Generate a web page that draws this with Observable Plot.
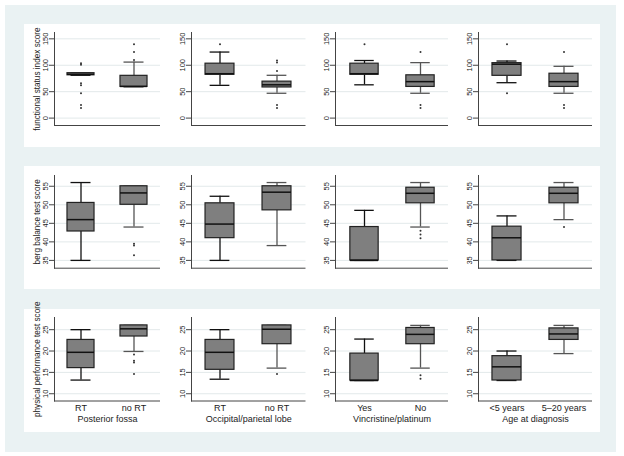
<!DOCTYPE html>
<html><head><meta charset="utf-8">
<script src="https://cdn.jsdelivr.net/npm/d3@7"></script>
<script src="https://cdn.jsdelivr.net/npm/@observablehq/plot@0.6"></script>
<style>
body{margin:0;background:#fff;}
#root{position:relative;width:624px;height:456px;overflow:hidden;font-family:"Liberation Sans",Arial,sans-serif;}
.bg{position:absolute;}
.chart{position:absolute;}
.chart svg{overflow:visible;}
</style></head><body><div id="root"></div>
<script>
// ---- categories & labels ----
const columnTitles = ["Posterior fossa", "Occipital/parietal lobe", "Vincristine/platinum", "Age at diagnosis"];
const groupLabels = [["RT", "no RT"], ["RT", "no RT"], ["Yes", "No"], ["<5 years", "5–20 years"]];
const rowTitles = ["functional status index score", "berg balance test score", "physical performance test score"];
const rowTicks = [[0, 50, 100, 150], [35, 40, 45, 50, 55], [10, 15, 20, 25]];
const rowDomains = [[-14, 162], [32.9, 57.9], [8.3, 27.85]];

// ---- functional status index (order: col1 g1, col1 g2, col2 g1, ...) ----
const fsiLow  = [81, 59, 62, 47, 63, 47, 67, 47];
const fsiQ1   = [81, 59, 82, 58, 82, 59, 80, 59];
const fsiMed  = [83, 60, 84, 63, 84, 69, 102, 69];
const fsiQ3   = [85, 80, 103, 69, 103, 81, 104, 84];
const fsiHigh = [85, 106, 125, 81, 109, 105, 108, 98];
const fsiOut  = [[104, 101, 66, 62, 47, 25, 19], [140, 125, 110], [140], [109, 105, 89, 25, 19], [140], [125, 25, 19], [140, 47], [125, 25, 19]];

// ---- berg balance test ----
const bergLow  = [35, 44, 35, 39, 35, 44, 35, 46];
const bergQ1   = [42.8, 50, 41, 48.5, 35, 50.4, 35, 50.4];
const bergMed  = [46, 53.2, 44.8, 53.4, 35, 53.1, 41.1, 53.1];
const bergQ3   = [50.5, 55, 50.4, 55, 44, 54.6, 44.1, 54.6];
const bergHigh = [56, 55, 52.3, 56, 48.5, 56, 47, 56];
const bergOut  = [[], [39.5, 39, 36.4], [], [], [], [43, 42, 41], [], [44]];

// ---- physical performance test ----
const pptLow  = [13.2, 19.9, 13.4, 16, 13.1, 16, 13.1, 19.4];
const pptQ1   = [16, 23.4, 15.6, 21.6, 13.1, 21.6, 13.1, 22.6];
const pptMed  = [19.7, 25.2, 19.7, 25.1, 13.1, 23.9, 16.3, 24];
const pptQ3   = [22.6, 26, 22.6, 26, 19.4, 25.4, 18.8, 25.3];
const pptHigh = [25, 26, 25, 26, 22.8, 26, 20, 26];
const pptOut  = [[], [19.2, 17.7, 17.3, 14.6], [], [14.6], [], [14.3, 13.5], [], []];

const rowStats = [
  {low: fsiLow, q1: fsiQ1, med: fsiMed, q3: fsiQ3, high: fsiHigh, out: fsiOut},
  {low: bergLow, q1: bergQ1, med: bergMed, q3: bergQ3, high: bergHigh, out: bergOut},
  {low: pptLow, q1: pptQ1, med: pptMed, q3: pptQ3, high: pptHigh, out: pptOut}
];

// ---- layout ----
const colL = [54, 190.5, 335, 478], colR = [160, 305, 448, 592];
const rowT = [32, 175, 316.5], rowB = [125, 267.7, 400];
const panelBands = [[24, 147], [166, 289], [309, 432]];

const root = document.getElementById("root");
function addBg(x, y, w, h, color) {
  const d = document.createElement("div");
  d.className = "bg";
  Object.assign(d.style, {left: x + "px", top: y + "px", width: w + "px", height: h + "px", background: color});
  root.appendChild(d);
}
addBg(5, 5, 611, 447, "#EAF2F3");
for (const [t, b] of panelBands) addBg(24, t, 576, b - t, "#ffffff");

const AXIS = "#444";
const GRID = "#e2e9ea";
function chart(r, c) {
  const L = colL[c], R = colR[c], T = rowT[r], B = rowB[r];
  const ml = c === 0 ? 34 : 22, mr = 4, mt = 4, mb = r === 2 ? 28 : 4;
  const width = R - L + ml + mr, height = B - T + mt + mb;
  const s = rowStats[r];
  const data = [0, 1].map(g => {
    const i = 2 * c + g;
    return {group: groupLabels[c][g], g, low: s.low[i], q1: s.q1[i], med: s.med[i], q3: s.q3[i], high: s.high[i]};
  });
  const outs = [0, 1].flatMap(g => s.out[2 * c + g].map(v => ({group: groupLabels[c][g], value: v})));
  const band = (R - L) / 2;
  const boxInset = band * 0.245;
  const capInset = (band - 20) / 2;
  const whiskColor = d => d.g === 0 ? "#111" : "#555";
  const marks = [
    Plot.gridY(rowTicks[r], {stroke: GRID, strokeOpacity: 1}),
    Plot.axisY(rowTicks[r], {tickSize: 5, tickRotate: -90, tickPadding: 2, fontSize: 7.5, stroke: AXIS, label: null}),
    Plot.frame({anchor: "left", stroke: AXIS}),
    Plot.ruleY([rowDomains[r][0]], {stroke: AXIS}),
    Plot.ruleX(data, {x: "group", y1: "q3", y2: "high", stroke: whiskColor, strokeWidth: 1.3}),
    Plot.ruleX(data, {x: "group", y1: "q1", y2: "low", stroke: whiskColor, strokeWidth: 1.3}),
    Plot.tickY(data, {x: "group", y: "high", stroke: whiskColor, strokeWidth: 1.3, insetLeft: capInset, insetRight: capInset}),
    Plot.tickY(data, {x: "group", y: "low", stroke: whiskColor, strokeWidth: 1.3, insetLeft: capInset, insetRight: capInset}),
    Plot.barY(data, {x: "group", y1: "q1", y2: "q3", fill: "#7f7f7f", stroke: "#222", strokeWidth: 1.2, insetLeft: boxInset, insetRight: boxInset}),
    Plot.tickY(data, {x: "group", y: "med", stroke: "#111", strokeWidth: 1.5, insetLeft: boxInset, insetRight: boxInset}),
    Plot.dot(outs, {x: "group", y: "value", r: 1, fill: "#333", stroke: null})
  ];
  if (c === 0) {
    marks.push(Plot.text([rowTitles[r]], {frameAnchor: "left", textAnchor: "middle", rotate: -90, dx: -17, fontSize: 8.2, fill: "#222"}));
  }
  if (r === 2) {
    marks.push(Plot.axisX({tickSize: 0, tickPadding: 4, fontSize: 9, label: columnTitles[c], labelAnchor: "center", labelOffset: 21}));
  }
  const p = Plot.plot({
    width, height, marginLeft: ml, marginRight: mr, marginTop: mt, marginBottom: mb,
    style: {fontFamily: "'Liberation Sans', Arial, sans-serif", background: "transparent", color: "#222", fontSize: "8.5px"},
    x: {type: "band", domain: groupLabels[c], padding: 0, axis: r === 2 ? undefined : null},
    y: {domain: rowDomains[r]},
    marks
  });
  const d = document.createElement("div");
  d.className = "chart";
  d.style.left = (L - ml) + "px";
  d.style.top = (T - mt) + "px";
  d.appendChild(p);
  root.appendChild(d);
}
for (let r = 0; r < 3; r++) for (let c = 0; c < 4; c++) chart(r, c);
</script>
</body></html>
